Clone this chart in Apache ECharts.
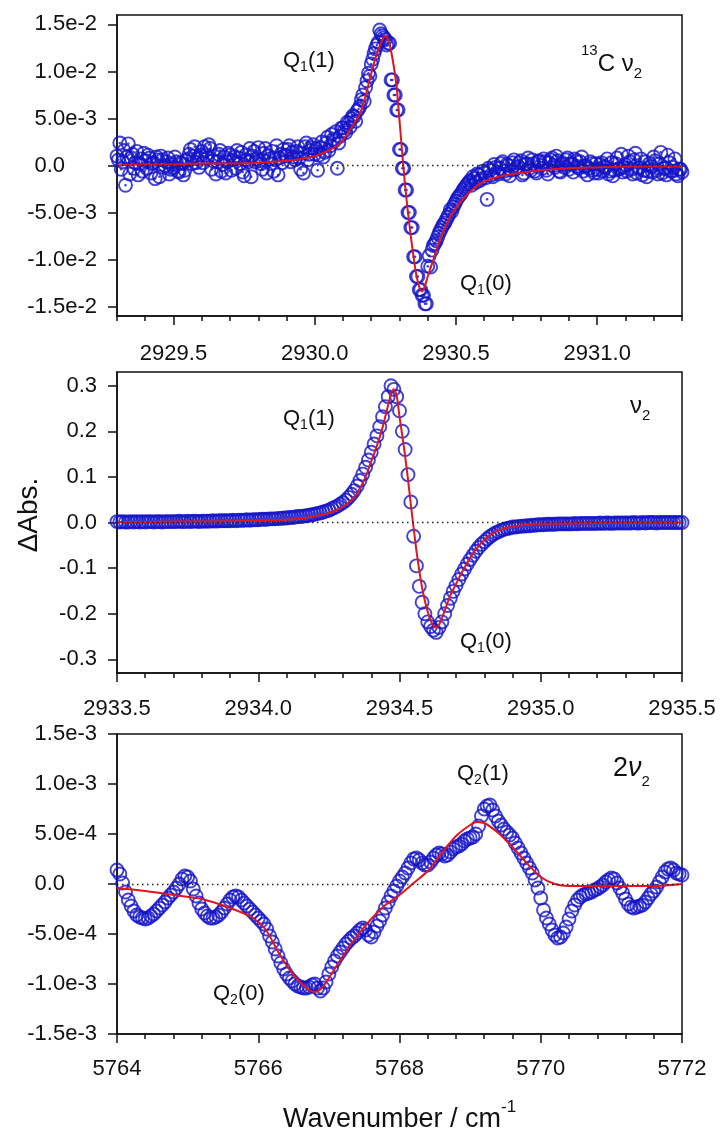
<!DOCTYPE html>
<html>
<head>
<meta charset="utf-8">
<title>Q-branch difference spectra</title>
<script src="https://cdn.jsdelivr.net/npm/echarts@6.0.0/dist/echarts.min.js"></script>
<style>
  html, body { margin: 0; padding: 0; background: #fff; }
  #chart { width: 720px; height: 1134px; }
</style>
</head>
<body>
<div id="chart"></div>
<script>
// ---------- 13C nu2 band: observed points, one every 0.01 cm-1 from 2929.30 ----------
const c13Start = 2929.30;
const c13Step = 0.01;
const c13Obs = [
  0.0010, 0.0024, 0.0004, -0.0021, 0.0023, 0.0008, -0.0003, 0.0015, 0.0002, -0.0006,
  0.0005, 0.0011, -0.0008, 0.0003, 0.0009, -0.0012, 0.0006, 0.0000, 0.0008, -0.0004,
  -0.0002, 0.0004, -0.0007, 0.0002, -0.0005, 0.0007, 0.0017, 0.0010, 0.0003, -0.0002,
  0.0015, 0.0020, 0.0008, 0.0018, 0.0005, -0.0009, 0.0012, -0.0006, 0.0009, 0.0004,
  0.0011, 0.0006, -0.0003, 0.0008, 0.0014, -0.0011, 0.0006, 0.0018, 0.0010, 0.0004,
  0.0019, 0.0002, 0.0013, -0.0008, 0.0007, 0.0015, 0.0006, -0.0010, 0.0012, 0.0017,
  0.0010, 0.0021, 0.0014, 0.0006, 0.0020, -0.0004, -0.0008, 0.0024, 0.0012, 0.0019,
  0.0012, -0.0005, 0.0019, 0.0009, 0.0024, 0.0016, 0.0033, 0.0026, -0.0003, 0.0031,
  0.0040, 0.0035, 0.0045, 0.0050, 0.0052, 0.0058, 0.0063, 0.0075, 0.0083, 0.0098,
  0.0108, 0.0119, 0.0128, 0.0144, 0.0138, 0.0134, 0.0130, 0.0091, 0.0075, 0.0059,
  0.0017, -0.0003, -0.0026, -0.0050, -0.0066, -0.0097, -0.0118, -0.0132, -0.0138, -0.0147,
  -0.0107, -0.0108, -0.0085, -0.0080, -0.0072, -0.0066, -0.0061, -0.0055, -0.0047, -0.0044,
  -0.0038, -0.0033, -0.0029, -0.0024, -0.0020, -0.0016, -0.0012, -0.0018, -0.0010, -0.0014,
  -0.0008, -0.0036, -0.0005, -0.0012, -0.0002, -0.0009, 0.0002, -0.0006, 0.0001, -0.0011,
  0.0003, -0.0004, -0.0001, 0.0005, -0.0008, 0.0002, -0.0003, 0.0006, -0.0006, 0.0004,
  0.0000, 0.0007, -0.0005, 0.0003, 0.0008, -0.0002, 0.0005, -0.0007, 0.0001, 0.0006,
  -0.0004, 0.0002, 0.0007, -0.0001, 0.0004, -0.0006, 0.0000, -0.0003, 0.0002, -0.0008,
  -0.0004, 0.0001, -0.0006, -0.0002, -0.0009, 0.0003, -0.0005, 0.0008, -0.0003, -0.0007,
  0.0001, 0.0010, -0.0004, 0.0006, -0.0008, -0.0002, -0.0010, 0.0004, -0.0006, -0.0001,
  0.0009, -0.0005, 0.0002, -0.0008, -0.0003, 0.0011, -0.0006, -0.0002, -0.0009, -0.0004,
  -0.0007
];
// second scan, interleaved half a step later (from 2929.305)
const c13ObsB = [
  0.0006, -0.0004, 0.0016, 0.0009, -0.0009, 0.0012, 0.0003, -0.0010, 0.0007, 0.0013,
  -0.0003, 0.0008, 0.0002, -0.0014, 0.0006, 0.0010, -0.0002, 0.0004, -0.0009, 0.0001,
  0.0009, -0.0006, 0.0003, -0.0010, 0.0005, 0.0012, 0.0002, 0.0020, 0.0007, 0.0011,
  0.0003, 0.0011, 0.0022, -0.0004, 0.0010, 0.0004, 0.0016, 0.0001, -0.0008, 0.0013,
  -0.0005, 0.0009, 0.0016, 0.0002, -0.0007, 0.0011, 0.0004, -0.0012, 0.0015, 0.0007,
  0.0005, -0.0004, 0.0018, 0.0010, 0.0002, -0.0006, 0.0021, 0.0008, 0.0003, 0.0011,
  0.0017, 0.0004, 0.0009, 0.0015, 0.0008, 0.0013, 0.0020, 0.0006, 0.0016, 0.0022,
  0.0018, 0.0011, 0.0025, 0.0014, 0.0030, 0.0021, 0.0028, 0.0036, 0.0024, 0.0040,
  0.0037, 0.0046, 0.0041, 0.0053, 0.0047, 0.0060, 0.0070, 0.0068, 0.0090, 0.0095,
  0.0113, 0.0124, 0.0131, 0.0140, 0.0136, 0.0128, 0.0130, 0.0091, 0.0075, 0.0059,
  0.0017, -0.0003, -0.0026, -0.0050, -0.0066, -0.0097, -0.0118, -0.0132, -0.0138, -0.0147,
  -0.0096, -0.0090, -0.0083, -0.0076, -0.0069, -0.0063, -0.0058, -0.0052, -0.0049, -0.0041,
  -0.0035, -0.0031, -0.0026, -0.0022, -0.0018, -0.0021, -0.0014, -0.0009, -0.0016, -0.0006,
  -0.0013, -0.0003, -0.0010, 0.0001, -0.0007, -0.0003, 0.0004, -0.0009, 0.0000, -0.0005,
  0.0006, -0.0002, 0.0003, -0.0010, 0.0001, 0.0008, -0.0005, 0.0002, -0.0008, 0.0005,
  -0.0003, 0.0004, -0.0009, 0.0006, 0.0000, 0.0010, -0.0006, 0.0003, -0.0002, 0.0008,
  0.0001, -0.0007, 0.0005, -0.0003, 0.0009, -0.0001, -0.0010, 0.0004, -0.0005, 0.0002,
  -0.0008, 0.0003, -0.0001, 0.0007, -0.0006, -0.0011, 0.0002, -0.0004, 0.0012, -0.0002,
  -0.0006, 0.0004, -0.0009, 0.0013, -0.0003, 0.0007, -0.0005, -0.0012, 0.0002, -0.0007,
  0.0005, -0.0009, 0.0014, -0.0003, -0.0010, 0.0003, -0.0006, 0.0007, -0.0011, -0.0004
];
// fitted line shape
const c13FitX = [
  2929.30, 2929.40, 2929.50, 2929.60, 2929.70, 2929.80, 2929.90, 2929.95,
  2930.00, 2930.05, 2930.08, 2930.10, 2930.12, 2930.14, 2930.16, 2930.18,
  2930.20, 2930.22, 2930.24, 2930.25, 2930.26, 2930.27, 2930.28, 2930.29,
  2930.30, 2930.31, 2930.32, 2930.33, 2930.34, 2930.35, 2930.36, 2930.37,
  2930.38, 2930.39, 2930.40, 2930.42, 2930.44, 2930.46, 2930.48, 2930.50,
  2930.53, 2930.56, 2930.60, 2930.65, 2930.70, 2930.80, 2930.90,
  2931.00, 2931.10, 2931.30
];
const c13FitY = [
  0.0000, 0.0001, 0.0001, 0.0002, 0.0002, 0.0003, 0.0005, 0.0007,
  0.0010, 0.0016, 0.0021, 0.0027, 0.0036, 0.0045, 0.0055, 0.0074,
  0.0098, 0.0119, 0.0134, 0.0138, 0.0134, 0.0122, 0.0105, 0.0083,
  0.0048, 0.0012, -0.0022, -0.0050, -0.0075, -0.0098, -0.0117, -0.0129,
  -0.0134, -0.0128, -0.0118, -0.0100, -0.0082, -0.0067, -0.0054, -0.0045,
  -0.0034, -0.0025, -0.0017, -0.0012, -0.0009, -0.0005, -0.0003,
  -0.0002, -0.0001, -0.0001
];

// ---------- nu2 band: observed points, one every 0.01 cm-1 from 2933.50 ----------
const nu2Start = 2933.50;
const nu2Step = 0.01;
const nu2Obs = [
  0.002, 0.001, 0.002, 0.001, 0.001, 0.002, 0.001, 0.002, 0.001, 0.002,
  0.001, 0.002, 0.002, 0.001, 0.002, 0.002, 0.001, 0.002, 0.002, 0.002,
  0.002, 0.002, 0.003, 0.002, 0.002, 0.003, 0.002, 0.003, 0.003, 0.002,
  0.003, 0.003, 0.003, 0.003, 0.004, 0.003, 0.004, 0.004, 0.004, 0.004,
  0.004, 0.005, 0.004, 0.005, 0.005, 0.005, 0.006, 0.005, 0.006, 0.006,
  0.006, 0.007, 0.007, 0.007, 0.008, 0.008, 0.008, 0.009, 0.009, 0.010,
  0.010, 0.011, 0.011, 0.012, 0.013, 0.013, 0.014, 0.015, 0.016, 0.017,
  0.018, 0.020, 0.021, 0.023, 0.025, 0.027, 0.030, 0.033, 0.036, 0.040,
  0.044, 0.049, 0.055, 0.062, 0.070, 0.080, 0.092, 0.106, 0.121, 0.137,
  0.154, 0.172, 0.190, 0.210, 0.232, 0.254, 0.276, 0.300, 0.292, 0.276,
  0.245, 0.200, 0.160, 0.105, 0.045, -0.030, -0.095, -0.140, -0.175, -0.200,
  -0.218, -0.228, -0.236, -0.241, -0.230, -0.218, -0.200, -0.182, -0.166, -0.151,
  -0.138, -0.125, -0.113, -0.102, -0.091, -0.081, -0.072, -0.063, -0.055, -0.048,
  -0.042, -0.036, -0.031, -0.027, -0.023, -0.020, -0.017, -0.015, -0.013, -0.012,
  -0.010, -0.010, -0.009, -0.008, -0.008, -0.007, -0.007, -0.006, -0.006, -0.005,
  -0.005, -0.005, -0.004, -0.004, -0.004, -0.004, -0.003, -0.003, -0.003, -0.003,
  -0.003, -0.003, -0.002, -0.003, -0.002, -0.002, -0.002, -0.002, -0.002, -0.002,
  -0.002, -0.001, -0.002, -0.001, -0.001, -0.002, -0.001, -0.001, -0.001, -0.001,
  -0.001, -0.001, -0.001, 0.000, -0.001, -0.001, 0.000, -0.001, 0.000, 0.000,
  0.000, -0.001, 0.000, 0.000, 0.000, 0.000, 0.000, 0.000, 0.000, 0.000,
  0.000
];
const nu2FitX = [
  2933.50, 2933.60, 2933.70, 2933.80, 2933.90, 2934.00,
  2934.10, 2934.15, 2934.20, 2934.25, 2934.28, 2934.30,
  2934.32, 2934.34, 2934.36, 2934.38, 2934.40, 2934.42, 2934.44, 2934.46,
  2934.47, 2934.48, 2934.49, 2934.50, 2934.51, 2934.52, 2934.53, 2934.54,
  2934.55, 2934.56, 2934.57, 2934.58, 2934.59, 2934.60, 2934.61, 2934.62,
  2934.63, 2934.64, 2934.65, 2934.66, 2934.68, 2934.70, 2934.72, 2934.74,
  2934.76, 2934.78, 2934.80, 2934.83, 2934.86, 2934.90, 2934.95,
  2935.00, 2935.10, 2935.20, 2935.30, 2935.50
];
const nu2FitY = [
  0.001, 0.001, 0.002, 0.002, 0.003, 0.004,
  0.006, 0.009, 0.014, 0.021, 0.028, 0.035,
  0.044, 0.055, 0.075, 0.100, 0.134, 0.168, 0.208, 0.258,
  0.281, 0.292, 0.278, 0.232, 0.190, 0.145, 0.095, 0.040,
  -0.012, -0.062, -0.105, -0.143, -0.172, -0.196, -0.214, -0.226,
  -0.230, -0.224, -0.210, -0.193, -0.160, -0.135, -0.110, -0.088,
  -0.068, -0.052, -0.038, -0.024, -0.015, -0.009, -0.005,
  -0.003, -0.002, -0.001, -0.001, 0.000
];

// ---------- 2nu2 overtone: observed points, one every 0.04 cm-1 from 5764.00 ----------
const ovStart = 5764.00;
const ovStep = 0.04;
const ovObs = [
  0.00014, 0.00010, 0.00001, -0.00008, -0.00016, -0.00022, -0.00027, -0.00031, -0.00033, -0.00034,
  -0.00035, -0.00034, -0.00032, -0.00030, -0.00027, -0.00024, -0.00021, -0.00018, -0.00014, -0.00011,
  -0.00008, -0.00004, 0.00000, 0.00005, 0.00008, 0.00007, 0.00003, -0.00005, -0.00012, -0.00019,
  -0.00025, -0.00029, -0.00032, -0.00034, -0.00034, -0.00033, -0.00031, -0.00028, -0.00024, -0.00020,
  -0.00016, -0.00013, -0.00012, -0.00013, -0.00016, -0.00019, -0.00022, -0.00025, -0.00028, -0.00031,
  -0.00034, -0.00037, -0.00040, -0.00045, -0.00052, -0.00058, -0.00065, -0.00072, -0.00079, -0.00085,
  -0.00090, -0.00094, -0.00097, -0.00100, -0.00102, -0.00103, -0.00104, -0.00104, -0.00103, -0.00101,
  -0.00100, -0.00104, -0.00107, -0.00104, -0.00098, -0.00090, -0.00083, -0.00077, -0.00072, -0.00068,
  -0.00064, -0.00060, -0.00057, -0.00054, -0.00052, -0.00049, -0.00046, -0.00044, -0.00046, -0.00051,
  -0.00053, -0.00048, -0.00042, -0.00037, -0.00031, -0.00024, -0.00018, -0.00012, -0.00007, -0.00002,
  0.00003, 0.00007, 0.00011, 0.00016, 0.00021, 0.00025, 0.00026, 0.00024, 0.00021, 0.00019,
  0.00019, 0.00022, 0.00026, 0.00029, 0.00031, 0.00030, 0.00028, 0.00029, 0.00032, 0.00035,
  0.00037, 0.00038, 0.00040, 0.00043, 0.00045, 0.00046, 0.00047, 0.00050, 0.00058, 0.00068,
  0.00075, 0.00078, 0.00079, 0.00074, 0.00068, 0.00063, 0.00059, 0.00055, 0.00052, 0.00049,
  0.00046, 0.00041, 0.00036, 0.00031, 0.00026, 0.00021, 0.00016, 0.00011, 0.00004, -0.00004,
  -0.00014, -0.00026, -0.00034, -0.00040, -0.00046, -0.00051, -0.00054, -0.00053, -0.00049, -0.00043,
  -0.00035, -0.00027, -0.00021, -0.00016, -0.00013, -0.00011, -0.00010, -0.00009, -0.00008, -0.00006,
  -0.00005, -0.00003, -0.00001, 0.00002, 0.00004, 0.00006, 0.00005, 0.00001, -0.00004, -0.00009,
  -0.00015, -0.00020, -0.00023, -0.00024, -0.00023, -0.00022, -0.00021, -0.00018, -0.00014, -0.00010,
  -0.00007, -0.00003, 0.00002, 0.00007, 0.00012, 0.00015, 0.00016, 0.00014, 0.00011, 0.00010,
  0.00009
];
const ovFitX = [
  5764.0, 5764.4, 5764.8, 5765.2, 5765.6, 5765.9, 5766.1, 5766.3, 5766.5, 5766.7,
  5766.8, 5766.9, 5767.0, 5767.2, 5767.4, 5767.6, 5767.8, 5768.0, 5768.2, 5768.4,
  5768.6, 5768.8, 5769.0, 5769.1, 5769.2, 5769.4, 5769.6, 5769.8, 5770.0, 5770.2,
  5770.4, 5770.8, 5771.2, 5771.6, 5772.0
];
const ovFitY = [
  -0.00004, -0.00007, -0.00011, -0.00015, -0.00024, -0.00033, -0.00045, -0.00070, -0.00091, -0.00105,
  -0.00108, -0.00104, -0.00094, -0.00072, -0.00052, -0.00035, -0.00021, -0.00011, 0.00001, 0.00013,
  0.00031, 0.00048, 0.00059, 0.00062, 0.00061, 0.00051, 0.00037, 0.00021, 0.00007, 0.00000,
  -0.00002, -0.00002, -0.00002, -0.00002, 0.00000
];

// ---------- tick labels ----------
const c13XLabels = [2929.5, 2930.0, 2930.5, 2931.0];
const nu2XLabels = [2933.5, 2934.0, 2934.5, 2935.0, 2935.5];
const ovXLabels = [5764, 5766, 5768, 5770, 5772];
const c13YLabels = [-0.015, -0.01, -0.005, 0, 0.005, 0.01, 0.015];
const nu2YLabels = [-0.3, -0.2, -0.1, 0, 0.1, 0.2, 0.3];
const ovYLabels = [-0.0015, -0.001, -0.0005, 0, 0.0005, 0.001, 0.0015];

// ---------- styling ----------
const FONT = '"Liberation Sans", Arial, sans-serif';
const INK = '#111111';
const BLUE = '#1414c8';
const RED = '#e0161e';
const TICK_FS = 22;

const GRIDS = [
  { left: 117, top: 15, width: 565, height: 301 },
  { left: 117, top: 372, width: 565, height: 301 },
  { left: 117, top: 734, width: 565, height: 300 }
];

function tickRange(min, max, step) {
  const out = [];
  const n = Math.round((max - min) / step);
  for (let i = 0; i <= n; i++) out.push(+(min + i * step).toFixed(4));
  return out;
}

function obsPairs(start, step, values) {
  return values.map((v, i) => [+(start + i * step).toFixed(3), v]);
}
function fitPairs(xs, ys) {
  return xs.map((x, i) => [x, ys[i]]);
}

const axisLineStyle = { color: INK, width: 1.5 };

function mainX(gi, min, max, labels, fmt, margin) {
  return {
    type: 'value', gridIndex: gi, min: min, max: max, position: 'bottom',
    axisLine: { show: true, onZero: false, lineStyle: axisLineStyle },
    axisTick: { show: true, inside: false, length: 9, customValues: labels, lineStyle: axisLineStyle },
    axisLabel: {
      show: true, customValues: labels, formatter: fmt, margin: margin,
      fontFamily: FONT, fontSize: TICK_FS, color: INK,
      showMinLabel: true, showMaxLabel: true, hideOverlap: false
    },
    splitLine: { show: false }
  };
}
function minorX(gi, min, max, step) {
  return {
    type: 'value', gridIndex: gi, min: min, max: max, position: 'bottom',
    axisLine: { show: false, onZero: false },
    axisTick: { show: true, inside: false, length: 5, customValues: tickRange(min, max, step), lineStyle: axisLineStyle },
    axisLabel: { show: false },
    splitLine: { show: false }
  };
}

// right-aligned labels; "0.0" gets a trailing gap so it lines up on the decimal point
const sciFmt = v => (v === 0 ? '0.0{p| }' : v.toExponential(1));
const fixFmt = v => v.toFixed(1);

function yAxisDef(gi, min, max, labels, fmt) {
  return {
    type: 'value', gridIndex: gi, min: min, max: max,
    axisLine: { show: true, onZero: false, lineStyle: axisLineStyle },
    axisTick: { show: true, inside: false, length: 9, customValues: labels, lineStyle: axisLineStyle },
    axisLabel: {
      show: true, customValues: labels, formatter: fmt, margin: 20,
      fontFamily: FONT, fontSize: TICK_FS, color: INK,
      showMinLabel: true, showMaxLabel: true, hideOverlap: false,
      rich: {
        p: { width: 32, fontFamily: FONT, fontSize: TICK_FS }
      }
    },
    splitLine: { show: false }
  };
}

const zeroLine = {
  silent: true, symbol: 'none', label: { show: false },
  lineStyle: { type: [1.5, 3.5], color: '#222', width: 1.3 },
  data: [{ yAxis: 0 }]
};

function obsSeries(gi, data, withZero) {
  const s = {
    type: 'scatter', xAxisIndex: gi, yAxisIndex: gi, data: data,
    symbol: 'circle', symbolSize: 13, clip: false, silent: true, z: 2,
    itemStyle: { color: 'rgba(0,0,0,0)', borderColor: BLUE, borderWidth: 1.9 }
  };
  if (withZero) s.markLine = zeroLine;
  return s;
}
function dotSeries(gi, data) {
  return {
    type: 'scatter', xAxisIndex: gi, yAxisIndex: gi, data: data,
    symbol: 'circle', symbolSize: 2.5, clip: false, silent: true, z: 3,
    itemStyle: { color: BLUE }
  };
}
function fitSeries(gi, data) {
  return {
    type: 'line', xAxisIndex: gi, yAxisIndex: gi, data: data,
    showSymbol: false, symbol: 'none', smooth: 0.25, clip: false, silent: true, z: 4,
    lineStyle: { color: RED, width: 2 }
  };
}

// ---------- text annotations ----------
const measureCtx = document.createElement('canvas').getContext('2d');
function textWidth(t, fs, italic) {
  measureCtx.font = (italic ? 'italic ' : '') + fs + 'px ' + FONT;
  return measureCtx.measureText(t).width;
}
// parts: [text, fontSize, vertical offset of its cap line, italic]
function richText(x, capTop, parts) {
  const els = [];
  let cx = x;
  parts.forEach(p => {
    const [t, fs, dy, italic] = p;
    els.push({
      type: 'text', left: cx, top: capTop + (dy || 0) - 0.1 * fs, silent: true, z: 10,
      style: { text: t, font: (italic ? 'italic ' : '') + fs + 'px ' + FONT, fill: INK }
    });
    cx += textWidth(t, fs, italic);
  });
  return els;
}
function partsWidth(parts) {
  return parts.reduce((w, p) => w + textWidth(p[0], p[1], p[3]), 0);
}

const titleParts = [['Wavenumber / cm', 27, 0], ['-1', 17, -8]];
const plotCenterX = GRIDS[2].left + GRIDS[2].width / 2;

const graphics = [].concat(
  richText(283, 52, [['Q', 22, 0], ['1', 14, 10], ['(1)', 22, 0]]),
  richText(460, 275, [['Q', 22, 0], ['1', 14, 10], ['(0)', 22, 0]]),
  richText(581, 55, [['13', 15, -10], ['C', 24, 0], [' \u03bd', 24, 0], ['2', 15, 13]]),
  richText(283, 410, [['Q', 22, 0], ['1', 14, 10], ['(1)', 22, 0]]),
  richText(460, 633, [['Q', 22, 0], ['1', 14, 10], ['(0)', 22, 0]]),
  richText(630, 397, [['\u03bd', 24, 0], ['2', 15, 13]]),
  richText(457, 765, [['Q', 22, 0], ['2', 14, 10], ['(1)', 22, 0]]),
  richText(213, 985, [['Q', 22, 0], ['2', 14, 10], ['(0)', 22, 0]]),
  richText(613, 758, [['2', 27, 0], ['\u03bd', 27, 0, true], ['2', 15, 18]]),
  richText(plotCenterX - partsWidth(titleParts) / 2, 1109, titleParts),
  [{
    type: 'text', x: 29, y: 515, rotation: Math.PI / 2, silent: true, z: 10,
    style: {
      text: '\u0394Abs.', font: '28px ' + FONT, fill: INK,
      align: 'center', verticalAlign: 'middle',
      textAlign: 'center', textVerticalAlign: 'middle'
    }
  }]
);

const c13Data = obsPairs(c13Start, c13Step, c13Obs).concat(obsPairs(c13Start + c13Step / 2, c13Step, c13ObsB));

const option = {
  animation: false,
  backgroundColor: '#ffffff',
  grid: GRIDS.map(g => Object.assign({
    show: true, borderColor: INK, borderWidth: 1.5, backgroundColor: 'transparent', containLabel: false
  }, g)),
  xAxis: [
    mainX(0, 2929.3, 2931.3, c13XLabels, v => v.toFixed(1), 27),
    mainX(1, 2933.5, 2935.5, nu2XLabels, v => v.toFixed(1), 25),
    mainX(2, 5764, 5772, ovXLabels, v => String(v), 24),
    minorX(0, 2929.3, 2931.3, 0.1),
    minorX(1, 2933.5, 2935.5, 0.1),
    minorX(2, 5764, 5772, 0.4)
  ],
  yAxis: [
    yAxisDef(0, -0.016, 0.016, c13YLabels, sciFmt),
    yAxisDef(1, -0.33, 0.33, nu2YLabels, fixFmt),
    yAxisDef(2, -0.0015, 0.0015, ovYLabels, sciFmt)
  ],
  series: [
    obsSeries(0, c13Data, true),
    dotSeries(0, c13Data),
    fitSeries(0, fitPairs(c13FitX, c13FitY)),
    obsSeries(1, obsPairs(nu2Start, nu2Step, nu2Obs), true),
    fitSeries(1, fitPairs(nu2FitX, nu2FitY)),
    obsSeries(2, obsPairs(ovStart, ovStep, ovObs), true),
    fitSeries(2, fitPairs(ovFitX, ovFitY))
  ],
  graphic: graphics
};

const chart = echarts.init(document.getElementById('chart'), null, { renderer: 'canvas' });
chart.setOption(option);
</script>
</body>
</html>
